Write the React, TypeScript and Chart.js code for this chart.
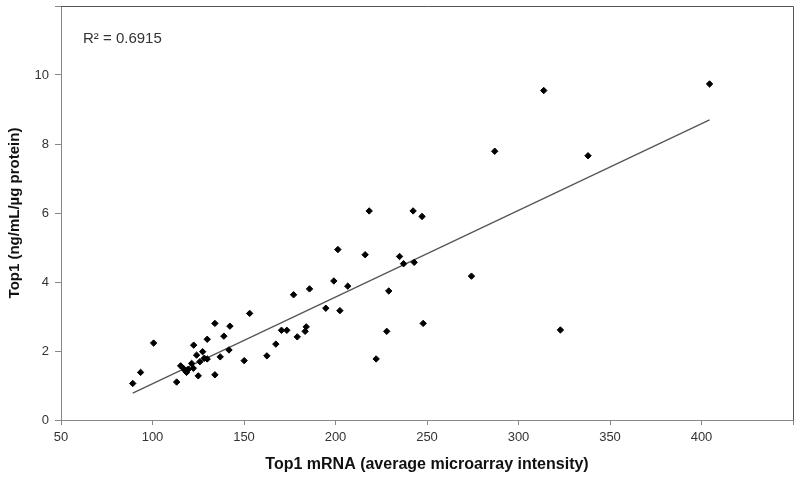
import React, { useEffect, useRef } from "react";
import { Chart, registerables } from "chart.js";

Chart.register(...registerables);

// Top1 mRNA (average microarray intensity)
const mrnaValues: number[] = [
  89.2, 93.5, 100.6, 113.2, 115.4, 116.8, 117.8, 118.6, 119.6, 121.4,
  122.3, 122.5, 124.1, 125.0, 125.9, 127.4, 128.3, 129.9, 129.9, 134.1,
  134.1, 137.0, 139.0, 141.8, 142.3, 150.1, 153.1, 162.5, 167.4, 170.5,
  173.4, 177.1, 179.1, 183.4, 184.0, 185.8, 194.7, 199.1, 201.3, 202.4,
  206.7, 216.2, 218.4, 222.2, 228.0, 229.1, 235.0, 237.2, 242.4, 243.0,
  247.3, 247.9, 274.3, 287.0, 313.8, 322.9, 338.0, 404.4,
];

// Top1 (ng/mL/µg protein)
const proteinValues: number[] = [
  1.06, 1.38, 2.23, 1.10, 1.57, 1.50, 1.44, 1.38, 1.47, 1.64,
  1.50, 2.17, 1.88, 1.28, 1.69, 1.98, 1.79, 2.34, 1.77, 2.80,
  1.31, 1.83, 2.43, 2.03, 2.72, 1.72, 3.09, 1.86, 2.20, 2.60,
  2.60, 3.63, 2.41, 2.57, 2.70, 3.80, 3.24, 4.03, 4.94, 3.17,
  3.88, 4.79, 6.06, 1.77, 2.57, 3.74, 4.74, 4.53, 6.06, 4.57,
  5.90, 2.80, 4.17, 7.79, 9.55, 2.61, 7.66, 9.74,
];

// Linear trend line end points
const trendX: number[] = [89.2, 404.4];
const trendY: number[] = [0.78, 8.7];

const rSquaredLabel = "R² = 0.6915";
const xTitle = "Top1 mRNA (average microarray intensity)";
const yTitle = "Top1 (ng/mL/µg protein)";
const xHiddenTicks: number[] = [450];
const yHiddenTicks: number[] = [12];

const FONT = "'Liberation Sans', Arial, sans-serif";

export default function App() {
  const canvasRef = useRef<HTMLCanvasElement | null>(null);

  useEffect(() => {
    document.body.style.margin = "0";
    const canvas = canvasRef.current;
    if (!canvas) return;

    const framePlugin = {
      id: "frameAndLabel",
      afterDraw(chart: any) {
        const { ctx, chartArea } = chart;
        ctx.save();
        ctx.strokeStyle = "#555555";
        ctx.lineWidth = 1;
        ctx.beginPath();
        ctx.moveTo(chartArea.left, Math.round(chartArea.top) + 0.5);
        ctx.lineTo(Math.round(chartArea.right) + 0.5, Math.round(chartArea.top) + 0.5);
        ctx.lineTo(Math.round(chartArea.right) + 0.5, chartArea.bottom);
        ctx.stroke();
        ctx.fillStyle = "#333333";
        ctx.font = `15px ${FONT}`;
        ctx.textAlign = "left";
        ctx.textBaseline = "middle";
        ctx.fillText(rSquaredLabel, chartArea.left + 22, chartArea.top + 33);
        ctx.restore();
      },
    };

    const chart = new Chart(canvas, {
      type: "scatter",
      data: {
        datasets: [
          {
            label: "Top1",
            data: mrnaValues.map((x, i) => ({ x, y: proteinValues[i] })),
            pointStyle: "rectRot",
            pointRadius: 3.2,
            pointBackgroundColor: "#000000",
            pointBorderColor: "#000000",
            pointBorderWidth: 1,
            showLine: false,
            order: 1,
          },
          {
            label: "Trend",
            data: trendX.map((x, i) => ({ x, y: trendY[i] })),
            showLine: true,
            borderColor: "#555555",
            borderWidth: 1.3,
            pointRadius: 0,
            fill: false,
            order: 2,
          },
        ],
      },
      options: {
        responsive: false,
        animation: false,
        layout: { padding: { left: 0, right: 7, top: 6, bottom: 0 } },
        plugins: {
          legend: { display: false },
          tooltip: { enabled: false },
        },
        scales: {
          x: {
            type: "linear",
            min: 50,
            max: 450,
            afterFit(scale: any) {
              scale.height = 62;
              scale.paddingLeft = 0;
              scale.paddingRight = 0;
            },
            ticks: {
              stepSize: 50,
              color: "#333333",
              font: { family: FONT, size: 13 },
              padding: 5,
              maxRotation: 0,
              callback: (v: any) => (xHiddenTicks.includes(Number(v)) ? "" : String(v)),
            },
            grid: {
              display: true,
              drawOnChartArea: false,
              drawTicks: true,
              tickLength: 5,
              tickColor: "#888888",
            },
            border: { display: true, color: "#888888", width: 1 },
            title: {
              display: true,
              text: xTitle,
              color: "#111111",
              font: { family: FONT, size: 16, weight: "bold" },
              padding: { top: 0, bottom: 8 },
            },
          },
          y: {
            type: "linear",
            min: 0,
            max: 12,
            afterFit(scale: any) {
              scale.width = 61;
              scale.paddingTop = 0;
              scale.paddingBottom = 0;
            },
            ticks: {
              stepSize: 2,
              color: "#333333",
              font: { family: FONT, size: 13 },
              padding: 6,
              callback: (v: any) => (yHiddenTicks.includes(Number(v)) ? "" : String(v)),
            },
            grid: {
              display: true,
              drawOnChartArea: false,
              drawTicks: true,
              tickLength: 6,
              tickColor: "#888888",
            },
            border: { display: true, color: "#888888", width: 1 },
            title: {
              display: true,
              text: yTitle,
              color: "#111111",
              font: { family: FONT, size: 15, weight: "bold" },
              padding: { top: 6, bottom: 0 },
            },
          },
        },
      },
      plugins: [framePlugin],
    });

    return () => {
      chart.destroy();
    };
  }, []);

  return (
    <div style={{ position: "absolute", left: 0, top: 0, width: 800, height: 482, background: "#ffffff" }}>
      <canvas ref={canvasRef} width={800} height={482} style={{ display: "block" }} />
    </div>
  );
}
